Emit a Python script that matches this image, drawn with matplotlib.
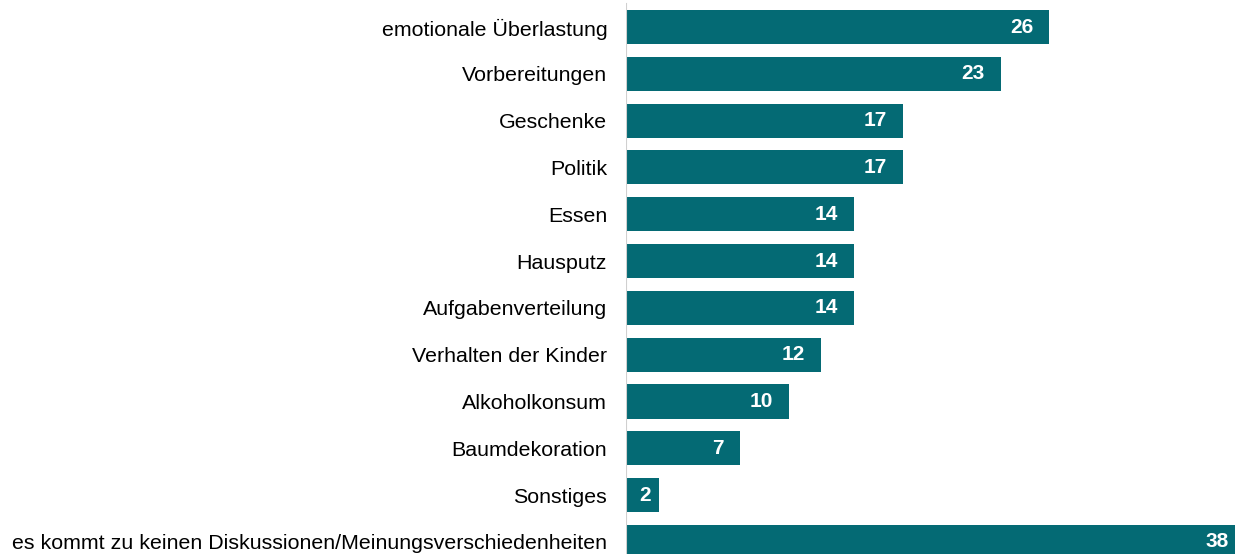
import numpy as np
import matplotlib.pyplot as plt

plt.rcParams['font.family'] = ['Liberation Sans', 'DejaVu Sans']

categories = ['emotionale Überlastung', 'Vorbereitungen', 'Geschenke', 'Politik',
              'Essen', 'Hausputz', 'Aufgabenverteilung', 'Verhalten der Kinder',
              'Alkoholkonsum', 'Baumdekoration', 'Sonstiges',
              'es kommt zu keinen Diskussionen/Meinungsverschiedenheiten']
values = [26, 23, 17, 17, 14, 14, 14, 12, 10, 7, 2, 38]

bar_color = '#046A74'

W, H = 1235, 554
fig = plt.figure(figsize=(W / 100, H / 100), dpi=100)
ax = fig.add_axes([626 / W, 0, 1 - 626 / W, 1])

y = np.arange(len(categories))
ax.barh(y, values, height=0.73, color=bar_color)

# labels inside the bars, near the end
for yi, v in zip(y, values):
    if v < 3:
        ax.annotate(str(v), (v / 2, yi), xytext=(2, 0), textcoords='offset points',
                    ha='center', va='center', color='white',
                    fontsize=15, fontweight='bold')
    else:
        ax.annotate(str(v), (v, yi), xytext=(-11.5, 0), textcoords='offset points',
                    ha='right', va='center', color='white', fontsize=15,
                    fontweight='bold', annotation_clip=False)

ax.set_xlim(0, 37.4)
ax.set_ylim(11.26, -0.577)
ax.set_yticks(y)
ax.set_yticklabels(categories, fontsize=15.4)
ax.tick_params(axis='y', length=0, pad=13.5)
ax.set_xticks([])
for s in ax.spines.values():
    s.set_visible(False)
ax.axvline(0, ymin=0, ymax=1 - 4 / H, color='#D0D0D0', lw=1.5)

fig.savefig('out.png', dpi=100)
